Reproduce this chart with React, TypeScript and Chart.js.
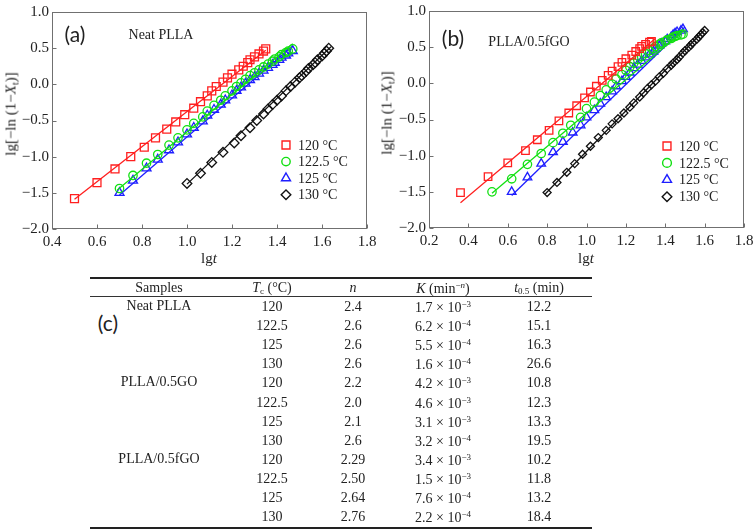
import React, { useEffect, useRef } from 'react';
import { Chart, registerables } from 'chart.js';

Chart.register(...registerables);

// ---------- shared ----------
const seriesLabels = ['120 °C', '122.5 °C', '125 °C', '130 °C'];
const seriesColors = ['#ff1f1f', '#12e012', '#1e1eff', '#111111'];
const seriesStyles = ['rect', 'circle', 'triangle', 'rectRot'];

// ---------- panel (a): Neat PLLA ----------
const aX120 = [0.50, 0.60, 0.68, 0.75, 0.81, 0.86, 0.91, 0.95, 0.99, 1.03, 1.06, 1.09, 1.11, 1.13, 1.16, 1.18, 1.20, 1.23, 1.25, 1.27, 1.28, 1.30, 1.32, 1.34, 1.35];
const aY120 = [-1.58, -1.36, -1.17, -1.00, -0.87, -0.74, -0.62, -0.52, -0.42, -0.33, -0.24, -0.16, -0.09, -0.03, 0.03, 0.09, 0.14, 0.20, 0.25, 0.30, 0.34, 0.38, 0.42, 0.46, 0.49];
const aX122 = [0.70, 0.76, 0.82, 0.87, 0.92, 0.96, 1.00, 1.03, 1.07, 1.09, 1.12, 1.15, 1.17, 1.20, 1.22, 1.24, 1.26, 1.28, 1.30, 1.32, 1.34, 1.36, 1.38, 1.39, 1.41, 1.42, 1.44, 1.45, 1.47];
const aY122 = [-1.44, -1.26, -1.09, -0.97, -0.84, -0.74, -0.63, -0.54, -0.45, -0.37, -0.29, -0.22, -0.16, -0.09, -0.03, 0.02, 0.07, 0.12, 0.16, 0.20, 0.24, 0.28, 0.32, 0.35, 0.38, 0.41, 0.44, 0.46, 0.49];
const aX125 = [0.70, 0.76, 0.82, 0.87, 0.92, 0.96, 1.00, 1.03, 1.07, 1.09, 1.12, 1.15, 1.17, 1.20, 1.22, 1.24, 1.26, 1.28, 1.30, 1.32, 1.34, 1.36, 1.38, 1.39, 1.41, 1.42, 1.44, 1.45, 1.47];
const aY125 = [-1.50, -1.33, -1.16, -1.04, -0.91, -0.80, -0.69, -0.60, -0.51, -0.43, -0.35, -0.28, -0.22, -0.15, -0.09, -0.04, 0.01, 0.06, 0.10, 0.15, 0.19, 0.23, 0.27, 0.30, 0.34, 0.37, 0.40, 0.43, 0.46];
const aX130 = [1.00, 1.06, 1.11, 1.16, 1.21, 1.24, 1.28, 1.31, 1.34, 1.36, 1.38, 1.40, 1.42, 1.44, 1.46, 1.48, 1.50, 1.51, 1.53, 1.54, 1.56, 1.57, 1.58, 1.60, 1.61, 1.62, 1.63];
const aY130 = [-1.37, -1.23, -1.08, -0.94, -0.81, -0.71, -0.60, -0.50, -0.41, -0.34, -0.28, -0.22, -0.16, -0.09, -0.03, 0.03, 0.09, 0.12, 0.18, 0.22, 0.27, 0.30, 0.34, 0.39, 0.43, 0.46, 0.50];
// fitted Avrami lines (end points)
const aFitX120 = [0.50, 1.35];
const aFitY120 = [-1.59, 0.47];
const aFitX122 = [0.69, 1.47];
const aFitY122 = [-1.46, 0.56];
const aFitX125 = [0.70, 1.47];
const aFitY125 = [-1.53, 0.53];
const aFitX130 = [1.00, 1.64];
const aFitY130 = [-1.38, 0.52];

// ---------- panel (b): PLLA/0.5fGO ----------
const bX120 = [0.36, 0.50, 0.60, 0.69, 0.75, 0.81, 0.86, 0.91, 0.95, 0.99, 1.02, 1.05, 1.08, 1.11, 1.13, 1.16, 1.18, 1.20, 1.23, 1.25, 1.27, 1.28, 1.30, 1.32, 1.33];
const bY120 = [-1.51, -1.29, -1.10, -0.93, -0.78, -0.65, -0.52, -0.41, -0.31, -0.20, -0.12, -0.04, 0.04, 0.11, 0.17, 0.23, 0.29, 0.34, 0.39, 0.44, 0.48, 0.51, 0.54, 0.57, 0.58];
const bX122 = [0.52, 0.62, 0.70, 0.77, 0.83, 0.88, 0.92, 0.97, 1.00, 1.04, 1.07, 1.10, 1.13, 1.15, 1.18, 1.20, 1.22, 1.24, 1.26, 1.28, 1.30, 1.32, 1.34, 1.35, 1.37, 1.38, 1.40, 1.41, 1.43, 1.44, 1.45, 1.46, 1.48, 1.49];
const bY122 = [-1.50, -1.32, -1.12, -0.97, -0.82, -0.69, -0.58, -0.47, -0.35, -0.26, -0.17, -0.09, -0.01, 0.06, 0.12, 0.18, 0.23, 0.28, 0.33, 0.37, 0.41, 0.45, 0.48, 0.51, 0.54, 0.56, 0.58, 0.60, 0.62, 0.64, 0.65, 0.66, 0.67, 0.68];
const bX125 = [0.62, 0.70, 0.77, 0.83, 0.88, 0.93, 0.97, 1.00, 1.04, 1.07, 1.10, 1.13, 1.15, 1.18, 1.20, 1.22, 1.24, 1.26, 1.28, 1.30, 1.32, 1.34, 1.35, 1.37, 1.38, 1.40, 1.41, 1.43, 1.44, 1.45, 1.46, 1.48, 1.49];
const bY125 = [-1.50, -1.30, -1.11, -0.95, -0.81, -0.68, -0.58, -0.47, -0.37, -0.28, -0.19, -0.11, -0.04, 0.03, 0.09, 0.15, 0.21, 0.26, 0.31, 0.36, 0.40, 0.44, 0.48, 0.52, 0.55, 0.58, 0.61, 0.64, 0.67, 0.69, 0.71, 0.73, 0.75];
const bX130 = [0.80, 0.85, 0.90, 0.94, 0.98, 1.02, 1.06, 1.10, 1.13, 1.16, 1.19, 1.22, 1.24, 1.27, 1.29, 1.31, 1.33, 1.35, 1.37, 1.39, 1.41, 1.43, 1.44, 1.46, 1.47, 1.49, 1.50, 1.52, 1.53, 1.54, 1.56, 1.57, 1.58, 1.59, 1.60];
const bY130 = [-1.51, -1.37, -1.23, -1.11, -0.98, -0.87, -0.75, -0.65, -0.56, -0.49, -0.41, -0.33, -0.27, -0.19, -0.13, -0.07, -0.02, 0.03, 0.09, 0.14, 0.20, 0.25, 0.28, 0.33, 0.36, 0.42, 0.45, 0.50, 0.53, 0.56, 0.61, 0.64, 0.67, 0.70, 0.73];
const bFitX120 = [0.36, 1.35];
const bFitY120 = [-1.65, 0.62];
const bFitX122 = [0.52, 1.49];
const bFitY122 = [-1.52, 0.72];
const bFitX125 = [0.62, 1.50];
const bFitY125 = [-1.55, 0.78];
const bFitX130 = [0.79, 1.60];
const bFitY130 = [-1.53, 0.74];

// ---------- axes ----------
const yMin = -2.0;
const yMax = 1.0;
const yStep = 0.5;
const aXMin = 0.4;
const bXMin = 0.2;
const xMax = 1.8;
const xStep = 0.2;

// ---------- table (c) ----------
const tableSamples = ['Neat PLLA', '', '', '', 'PLLA/0.5GO', '', '', '', 'PLLA/0.5fGO', '', '', ''];
const tableTc = ['120', '122.5', '125', '130', '120', '122.5', '125', '130', '120', '122.5', '125', '130'];
const tableN = ['2.4', '2.6', '2.6', '2.6', '2.2', '2.0', '2.1', '2.6', '2.29', '2.50', '2.64', '2.76'];
const tableKMant = ['1.7', '6.2', '5.5', '1.6', '4.2', '4.6', '3.1', '3.2', '3.4', '1.5', '7.6', '2.2'];
const tableKExp = ['−3', '−4', '−4', '−4', '−3', '−3', '−3', '−4', '−3', '−3', '−4', '−4'];
const tableT05 = ['12.2', '15.1', '16.3', '26.6', '10.8', '12.3', '13.3', '19.5', '10.2', '11.8', '13.2', '18.4'];

const SERIF = '"Liberation Serif", "Times New Roman", serif';
const SANS = 'Lato, "Open Sans", sans-serif';

const zip = (xs: number[], ys: number[]) => xs.map((x, i) => ({ x, y: ys[i] }));

function drawMarker(ctx: CanvasRenderingContext2D, style: string, x: number, y: number, r: number) {
  ctx.beginPath();
  if (style === 'rect') {
    const s = r * Math.SQRT1_2;
    ctx.rect(x - s, y - s, 2 * s, 2 * s);
  } else if (style === 'circle') {
    ctx.arc(x, y, r, 0, Math.PI * 2);
  } else if (style === 'triangle') {
    ctx.moveTo(x, y - r);
    ctx.lineTo(x + r * 0.866, y + r * 0.5);
    ctx.lineTo(x - r * 0.866, y + r * 0.5);
    ctx.closePath();
  } else {
    ctx.moveTo(x - r, y);
    ctx.lineTo(x, y - r);
    ctx.lineTo(x + r, y);
    ctx.lineTo(x, y + r);
    ctx.closePath();
  }
  ctx.stroke();
}

const framePlugin = {
  id: 'framePlugin',
  afterDraw(chart: any, _args: any, opts: any) {
    const { ctx, chartArea: a, scales } = chart;
    ctx.save();
    ctx.strokeStyle = '#707070';
    ctx.lineWidth = 1;
    const L = Math.round(a.left) + 0.5;
    const T = Math.round(a.top) + 0.5;
    const R = Math.round(a.right) - 0.5;
    const B = Math.round(a.bottom) - 0.5;
    ctx.strokeRect(L, T, R - L, B - T);
    ctx.beginPath();
    scales.x.ticks.forEach((t: any) => {
      const px = Math.round(scales.x.getPixelForValue(t.value)) + 0.5;
      ctx.moveTo(px, B);
      ctx.lineTo(px, B - 4);
    });
    scales.y.ticks.forEach((t: any) => {
      const py = Math.round(scales.y.getPixelForValue(t.value)) + 0.5;
      ctx.moveTo(L, py);
      ctx.lineTo(L + 4, py);
    });
    ctx.stroke();
    // legend
    const lg = opts.legend;
    if (lg) {
      ctx.font = `14px ${SERIF}`;
      ctx.textBaseline = 'middle';
      ctx.textAlign = 'left';
      seriesLabels.forEach((lab, i) => {
        const y = lg.y + i * lg.dy;
        ctx.strokeStyle = seriesColors[i];
        ctx.lineWidth = 1.4;
        drawMarker(ctx, seriesStyles[i], lg.x, y, lg.r[i]);
        ctx.fillStyle = '#222';
        ctx.fillText(lab, lg.x + 12, y + 1);
      });
    }
    ctx.restore();
  },
};

type SeriesSpec = { x: number[]; y: number[]; fx: number[]; fy: number[] };

function Panel(props: {
  width: number;
  height: number;
  xMin: number;
  series: SeriesSpec[];
  radii: number[];
  padding: { left: number; top: number; right: number; bottom: number };
  yWidth: number;
  legend: { x: number; y: number; dy: number; r: number[] };
}) {
  const ref = useRef<HTMLCanvasElement | null>(null);
  useEffect(() => {
    if (!ref.current) return;
    const datasets: any[] = [];
    props.series.forEach((s, i) => {
      datasets.push({
        label: seriesLabels[i] + ' fit',
        data: zip(s.fx, s.fy),
        showLine: true,
        borderColor: seriesColors[i],
        borderWidth: 1.3,
        pointRadius: 0,
        fill: false,
      });
      datasets.push({
        label: seriesLabels[i],
        data: zip(s.x, s.y),
        showLine: false,
        pointStyle: seriesStyles[i],
        pointRadius: props.radii[i],
        pointBorderWidth: 1.3,
        borderColor: seriesColors[i],
        pointBorderColor: seriesColors[i],
        backgroundColor: 'rgba(0,0,0,0)',
        pointBackgroundColor: 'rgba(0,0,0,0)',
      });
    });
    const tickFont = { family: SERIF, size: 15 };
    const fmt = (v: any) => Number(v).toFixed(1).replace('-', '\u2212');
    const chart = new Chart(ref.current, {
      type: 'scatter',
      data: { datasets },
      options: {
        animation: false,
        responsive: false,
        events: [],
        layout: { padding: props.padding },
        plugins: {
          legend: { display: false },
          tooltip: { enabled: false },
          framePlugin: { legend: props.legend },
        } as any,
        scales: {
          x: {
            type: 'linear',
            min: props.xMin,
            max: xMax,
            grid: { display: false, drawTicks: false },
            border: { display: false },
            ticks: { stepSize: xStep, font: tickFont, color: '#222', padding: 4, callback: fmt, maxRotation: 0 },
            afterFit: (sc: any) => {
              sc.height = props.height - props.padding.top - props.padding.bottom - 217;
              sc.paddingLeft = 0;
              sc.paddingRight = 0;
            },
          },
          y: {
            type: 'linear',
            min: yMin,
            max: yMax,
            grid: { display: false, drawTicks: false },
            border: { display: false },
            ticks: { stepSize: yStep, font: tickFont, color: '#222', padding: 3, callback: fmt },
            afterFit: (sc: any) => {
              sc.width = props.yWidth;
              sc.paddingTop = 0;
              sc.paddingBottom = 0;
            },
          },
        },
      } as any,
      plugins: [framePlugin as any],
    });
    return () => chart.destroy();
  }, []);
  return <canvas ref={ref} width={props.width} height={props.height} style={{ display: 'block' }} />;
}

const abs = (x: number, y: number, extra: any = {}) => ({
  position: 'absolute' as const,
  left: x,
  top: y,
  transform: 'translate(-50%, -50%)',
  whiteSpace: 'nowrap' as const,
  lineHeight: 1,
  color: '#222',
  ...extra,
});

function YTitle({ x, y }: { x: number; y: number }) {
  return (
    <div style={abs(x, y, { transform: 'translate(-50%, -50%) rotate(-90deg)', fontFamily: SERIF, fontSize: 15 })}>
      lg[−ln (1−<i>X</i><sub style={{ fontSize: 10, verticalAlign: -3 }}>t</sub>)]
    </div>
  );
}

function XTitle({ x, y }: { x: number; y: number }) {
  return (
    <div style={abs(x, y, { fontFamily: SERIF, fontSize: 15 })}>
      lg<i>t</i>
    </div>
  );
}

export default function App() {
  const rowY0 = 307;
  const rowDy = 19.1;
  const colX = [159, 272, 353, 443, 539];
  const cellFont = { fontFamily: SERIF, fontSize: 14 };
  return (
    <div style={{ position: 'fixed', left: 0, top: 0, width: 756, height: 531, background: '#fff', overflow: 'hidden', fontFamily: SERIF }}>
      <div style={{ position: 'absolute', left: 0, top: 0 }}>
        <Panel
          width={376}
          height={265}
          xMin={aXMin}
          series={[
            { x: aX120, y: aY120, fx: aFitX120, fy: aFitY120 },
            { x: aX122, y: aY122, fx: aFitX122, fy: aFitY122 },
            { x: aX125, y: aY125, fx: aFitX125, fy: aFitY125 },
            { x: aX130, y: aY130, fx: aFitX130, fy: aFitY130 },
          ]}
          radii={[5.6, 4.2, 5.2, 4.8]}
          padding={{ left: 0, top: 12, right: 9, bottom: 0 }}
          yWidth={52}
          legend={{ x: 286, y: 145, dy: 16.6, r: [5.6, 4.2, 5.2, 4.8] }}
        />
      </div>
      <div style={{ position: 'absolute', left: 376, top: 0 }}>
        <Panel
          width={380}
          height={265}
          xMin={bXMin}
          series={[
            { x: bX120, y: bY120, fx: bFitX120, fy: bFitY120 },
            { x: bX122, y: bY122, fx: bFitX122, fy: bFitY122 },
            { x: bX125, y: bY125, fx: bFitX125, fy: bFitY125 },
            { x: bX130, y: bY130, fx: bFitX130, fy: bFitY130 },
          ]}
          radii={[5.3, 4.2, 5.0, 4.0]}
          padding={{ left: 0, top: 11, right: 12, bottom: 0 }}
          yWidth={53}
          legend={{ x: 291, y: 146, dy: 16.9, r: [5.6, 4.4, 5.2, 4.8] }}
        />
      </div>

      {/* panel annotations */}
      <div style={abs(75, 33, { fontFamily: SANS, fontSize: 21 })}>(a)</div>
      <div style={abs(161, 35, { fontFamily: SERIF, fontSize: 14 })}>Neat PLLA</div>
      <div style={abs(453, 37, { fontFamily: SANS, fontSize: 21 })}>(b)</div>
      <div style={abs(529, 42, { fontFamily: SERIF, fontSize: 14 })}>PLLA/0.5fGO</div>
      <YTitle x={12} y={114} />
      <YTitle x={388} y={113} />
      <XTitle x={209} y={258} />
      <XTitle x={586} y={258} />

      {/* table (c) */}
      <div style={{ position: 'absolute', left: 90, top: 277, width: 502, height: 1.5, background: '#222' }} />
      <div style={{ position: 'absolute', left: 90, top: 296, width: 502, height: 1, background: '#333' }} />
      <div style={{ position: 'absolute', left: 90, top: 527, width: 502, height: 1.5, background: '#222' }} />
      <div style={abs(colX[0], 288, cellFont)}>Samples</div>
      <div style={abs(colX[1], 288, cellFont)}>
        <i>T</i>
        <sub style={{ fontSize: 9, verticalAlign: -2 }}>c</sub> (°C)
      </div>
      <div style={abs(colX[2], 288, cellFont)}>
        <i>n</i>
      </div>
      <div style={abs(colX[3], 288, cellFont)}>
        <i>K</i> (min<sup style={{ fontSize: 9, verticalAlign: 5 }}>−<i>n</i></sup>)
      </div>
      <div style={abs(colX[4], 288, cellFont)}>
        <i>t</i>
        <sub style={{ fontSize: 9, verticalAlign: -2 }}>0.5</sub> (min)
      </div>
      <div style={abs(108, 322, { fontFamily: SANS, fontSize: 21 })}>(c)</div>
      {tableTc.map((tc, i) => {
        const y = rowY0 + i * rowDy;
        return (
          <React.Fragment key={i}>
            {tableSamples[i] ? <div style={abs(colX[0], y - 1, cellFont)}>{tableSamples[i]}</div> : null}
            <div style={abs(colX[1], y, cellFont)}>{tc}</div>
            <div style={abs(colX[2], y, cellFont)}>{tableN[i]}</div>
            <div style={abs(colX[3], y, cellFont)}>
              {tableKMant[i]} × 10<sup style={{ fontSize: 9, verticalAlign: 5 }}>{tableKExp[i]}</sup>
            </div>
            <div style={abs(colX[4], y, cellFont)}>{tableT05[i]}</div>
          </React.Fragment>
        );
      })}
    </div>
  );
}
